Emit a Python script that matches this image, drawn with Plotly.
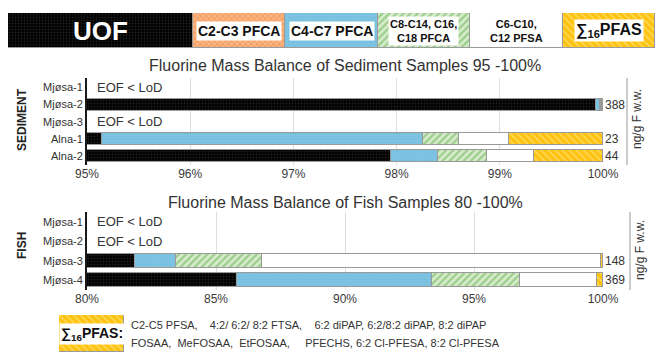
import plotly.graph_objects as go

# ---------------- data ----------------
CATEGORIES = ["UOF", "C2-C3 PFCA", "C4-C7 PFCA", "C8-C14, C16, C18 PFCA",
              "C6-C10, C12 PFSA", "∑16PFAS"]

SED_SAMPLES = ["Mjøsa-1", "Mjøsa-2", "Mjøsa-3", "Alna-1", "Alna-2"]
SED_UOF = [None, 99.93, None, 95.15, 97.95]
SED_C2C3 = [None, None, None, None, None]
SED_C4C7 = [None, 0.04, None, 3.11, 0.45]
SED_C8C18 = [None, 0.01, None, 0.34, 0.48]
SED_PFSA = [None, 0.01, None, 0.49, 0.45]
SED_PFAS = [None, 0.01, None, 0.91, 0.67]
SED_EOF = ["", "388", "", "23", "44"]
SED_BELOW_LOD = [True, False, True, False, False]

FISH_SAMPLES = ["Mjøsa-1", "Mjøsa-2", "Mjøsa-3", "Mjøsa-4"]
FISH_UOF = [None, None, 81.86, 85.80]
FISH_C2C3 = [None, None, None, None]
FISH_C4C7 = [None, None, 1.58, 7.56]
FISH_C8C18 = [None, None, 3.33, 3.44]
FISH_PFSA = [None, None, 13.14, 2.95]
FISH_PFAS = [None, None, 0.09, 0.25]
FISH_EOF = ["", "", "148", "369"]
FISH_BELOW_LOD = [True, True, False, False]

SED_TICKS = [95, 96, 97, 98, 99, 100]
SED_TICKTEXT = ["95%", "96%", "97%", "98%", "99%", "100%"]
FISH_TICKS = [80, 85, 90, 95, 100]
FISH_TICKTEXT = ["80%", "85%", "90%", "95%", "100%"]

PFAS_LINE1 = "C2-C5 PFSA,\u00a0\u00a0\u00a0 4:2/ 6:2/ 8:2 FTSA,\u00a0\u00a0\u00a0 6:2 diPAP, 6:2/8:2 diPAP, 8:2 diPAP"
PFAS_LINE2 = "FOSAA,\u00a0 MeFOSAA,\u00a0 EtFOSAA,\u00a0\u00a0\u00a0\u00a0 PFECHS, 6:2 Cl-PFESA, 8:2 Cl-PFESA"

# ---------------- styles ----------------
FONT = "Liberation Sans, Arial, sans-serif"
W, H = 657, 352
STYLES = [
    dict(bgcolor="#000000", fgcolor="#3c3c3c", shape=".", size=3, solidity=0.3),
    dict(bgcolor="#F7A367", fgcolor="#FFF0E4", shape="x", size=4, solidity=0.3),
    dict(bgcolor="#7EC4E2", fgcolor="#6DB6D8", shape=".", size=3, solidity=0.3),
    dict(bgcolor="#D6ECCB", fgcolor="#5FAE4E", shape="/", size=5, solidity=0.45),
    dict(bgcolor="#FFFFFF", fgcolor="#FFFFFF", shape="", size=4, solidity=0.3),
    dict(bgcolor="#FFC20E", fgcolor="#FFEB9A", shape="\\", size=5, solidity=0.35),
]
LINE = dict(color="#9a9a9a", width=1)
LEGEND_WEIGHTS = [2, 1, 1, 1, 1, 1]


def px_x(p):
    return p / W


def px_y(p):
    return 1 - p / H


def marker(i):
    s = STYLES[i]
    return dict(color=s["bgcolor"], line=LINE,
                pattern=dict(shape=s["shape"], bgcolor=s["bgcolor"], fgcolor=s["fgcolor"],
                             size=s["size"], solidity=s["solidity"], fillmode="overlay"))


fig = go.Figure()

sed_series = [SED_UOF, SED_C2C3, SED_C4C7, SED_C8C18, SED_PFSA, SED_PFAS]
fish_series = [FISH_UOF, FISH_C2C3, FISH_C4C7, FISH_C8C18, FISH_PFSA, FISH_PFAS]

for i, cat in enumerate(CATEGORIES):
    fig.add_trace(go.Bar(x=sed_series[i], y=SED_SAMPLES, orientation="h", width=0.7,
                         marker=marker(i), name=cat, showlegend=False,
                         xaxis="x", yaxis="y", hoverinfo="skip"))
    fig.add_trace(go.Bar(x=fish_series[i], y=FISH_SAMPLES, orientation="h", width=0.7,
                         marker=marker(i), name=cat, showlegend=False,
                         xaxis="x2", yaxis="y2", hoverinfo="skip"))
    fig.add_trace(go.Bar(x=[LEGEND_WEIGHTS[i]], y=["legend"], orientation="h", width=1,
                         marker=marker(i), name=cat, showlegend=False,
                         xaxis="x3", yaxis="y3", hoverinfo="skip"))

# note box for the sum-PFAS key
fig.add_trace(go.Bar(x=[1], y=["note"], orientation="h", width=1, marker=marker(5),
                     showlegend=False, xaxis="x4", yaxis="y4", hoverinfo="skip"))

X_DOM = [px_x(87), px_x(603)]
axis_common = dict(showgrid=True, gridcolor="#dedede", gridwidth=1, zeroline=False,
                   showline=False, ticks="", automargin=False,
                   tickfont=dict(family=FONT, size=12, color="#3a3a3a"))
y_common = dict(type="category", autorange="reversed", showgrid=False, zeroline=False,
                showline=True, linecolor="#1a1a1a", linewidth=2, ticks="", automargin=False,
                tickfont=dict(family=FONT, size=11, color="#333333"))
hidden = dict(visible=False, automargin=False, fixedrange=True)

fig.update_layout(
    width=W, height=H, margin=dict(l=0, r=0, t=0, b=0, autoexpand=False),
    paper_bgcolor="white", plot_bgcolor="white", barmode="stack", bargap=0,
    xaxis=dict(domain=X_DOM, range=[95, 100], tickvals=SED_TICKS, ticktext=SED_TICKTEXT,
               anchor="y", **axis_common),
    yaxis=dict(domain=[px_y(165), px_y(78)], anchor="x", categoryarray=SED_SAMPLES, **y_common),
    xaxis2=dict(domain=X_DOM, range=[80, 100], tickvals=FISH_TICKS, ticktext=FISH_TICKTEXT,
                anchor="y2", **axis_common),
    yaxis2=dict(domain=[px_y(290), px_y(212)], anchor="x2", categoryarray=FISH_SAMPLES, **y_common),
    xaxis3=dict(domain=[px_x(8), px_x(655)], range=[0, sum(LEGEND_WEIGHTS)], anchor="y3", **hidden),
    yaxis3=dict(domain=[px_y(48), px_y(13)], range=[-0.5, 0.5], anchor="x3", type="category", **hidden),
    xaxis4=dict(domain=[px_x(59), px_x(124)], range=[0, 1], anchor="y4", **hidden),
    yaxis4=dict(domain=[0, px_y(315)], range=[-0.5, 0.5], anchor="x4", type="category", **hidden),
)

ann = []


def note(x, y, text, size, color="#333", xanchor="center", yanchor="middle", **kw):
    d = dict(x=x, y=y, xref="paper", yref="paper", text=text, showarrow=False,
             xanchor=xanchor, yanchor=yanchor, font=dict(family=FONT, size=size, color=color))
    d.update(kw)
    ann.append(d)


# legend labels
legend_labels = [
    ("UOF", 26, "white", None),
    ("C2-C3 PFCA", 14, "#111", "white"),
    ("C4-C7 PFCA", 14, "#111", "white"),
    ("C8-C14, C16,<br>C18 PFCA", 11, "#111", "white"),
    ("C6-C10,<br>C12 PFSA", 11, "#111", None),
    ("∑<sub>16</sub>PFAS", 16, "#111", "white"),
]
cum = 0
for w, (txt, sz, col, bg) in zip(LEGEND_WEIGHTS, legend_labels):
    a = dict(x=cum + w / 2, y=0, xref="x3", yref="y3", text="<b>" + txt + "</b>", showarrow=False,
             xanchor="center", yanchor="middle",
             font=dict(family=FONT, size=sz, color=col), borderpad=1)
    if bg:
        a["bgcolor"] = bg
    ann.append(a)
    cum += w

# titles
note(px_x(345), px_y(65), "Fluorine Mass Balance of Sediment Samples 95 -100%", 16)
note(px_x(345), px_y(202), "Fluorine Mass Balance of Fish Samples 80 -100%", 16)
# side labels
note(px_x(22), px_y(120), "<b>SEDIMENT</b>", 12, "#222", textangle=-90)
note(px_x(22), px_y(246), "<b>FISH</b>", 12, "#222", textangle=-90)
note(px_x(637), px_y(119), "ng/g F w.w.", 12, textangle=-90)
note(px_x(640), px_y(250), "ng/g F w.w.", 12, textangle=-90)

# EOF < LoD and concentration labels
for s, lod, val in zip(SED_SAMPLES, SED_BELOW_LOD, SED_EOF):
    if lod:
        ann.append(dict(x=95, y=s, xref="x", yref="y", xanchor="left", yanchor="middle", xshift=8,
                        showarrow=False, text="EOF &lt; LoD",
                        font=dict(family=FONT, size=13, color="#333")))
    if val:
        ann.append(dict(x=100, y=s, xref="x", yref="y", xanchor="left", yanchor="middle", xshift=0,
                        showarrow=False, text=val, font=dict(family=FONT, size=12, color="#333")))
for s, lod, val in zip(FISH_SAMPLES, FISH_BELOW_LOD, FISH_EOF):
    if lod:
        ann.append(dict(x=80, y=s, xref="x2", yref="y2", xanchor="left", yanchor="middle", xshift=8,
                        showarrow=False, text="EOF &lt; LoD",
                        font=dict(family=FONT, size=13, color="#333")))
    if val:
        ann.append(dict(x=100, y=s, xref="x2", yref="y2", xanchor="left", yanchor="middle", xshift=0,
                        showarrow=False, text=val, font=dict(family=FONT, size=12, color="#333")))

# PFAS note
ann.append(dict(x=0.5, y=0, xref="x4", yref="y4", showarrow=False, text="<b>∑<sub>16</sub>PFAS:</b>",
                xanchor="center", yanchor="middle",
                bgcolor="white", borderpad=1, font=dict(family=FONT, size=14, color="#111")))
note(px_x(129), px_y(325), PFAS_LINE1, 11, xanchor="left")
note(px_x(129), px_y(343), PFAS_LINE2, 11, xanchor="left")

fig.update_layout(annotations=ann)

# right-hand separator lines
fig.add_shape(type="line", xref="paper", yref="paper", x0=px_x(627), x1=px_x(627),
              y0=px_y(165), y1=px_y(78), line=dict(color="#999", width=1))
fig.add_shape(type="line", xref="paper", yref="paper", x0=px_x(630), x1=px_x(630),
              y0=px_y(290), y1=px_y(212), line=dict(color="#999", width=1))

fig.write_html("out.html")
